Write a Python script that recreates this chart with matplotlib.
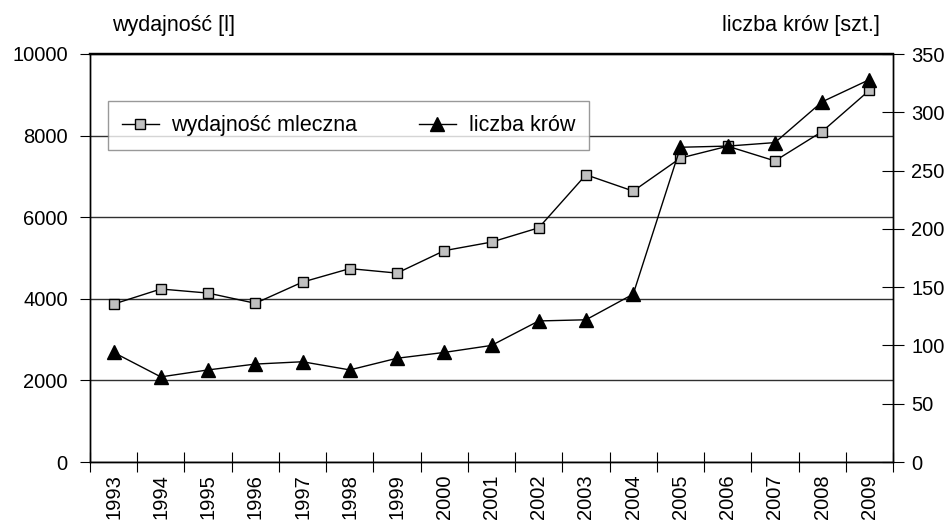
import matplotlib
matplotlib.use("Agg")
import matplotlib.pyplot as plt
from matplotlib.ticker import FixedLocator, NullFormatter

plt.rcParams['font.family'] = ['Liberation Sans', 'DejaVu Sans']

years = ['1993', '1994', '1995', '1996', '1997', '1998', '1999', '2000', '2001',
         '2002', '2003', '2004', '2005', '2006', '2007', '2008', '2009']
milk_yield = [3870, 4240, 4140, 3890, 4410, 4740, 4630, 5180, 5390,
              5740, 7040, 6640, 7450, 7740, 7380, 8100, 9110]
cow_count = [94, 73, 79, 84, 86, 79, 89, 94, 100,
             121, 122, 144, 270, 271, 274, 309, 328]

left_ticks = [0, 2000, 4000, 6000, 8000, 10000]
right_ticks = [0, 50, 100, 150, 200, 250, 300, 350]

fig = plt.figure(figsize=(9.5, 5.26), dpi=100)
ax = fig.add_axes([90/950, 1-462/526, (893-90)/950, (462-54)/526])
ax2 = ax.twinx()

x = list(range(len(years)))
TFS = 14.5
LFS = 15.5

l1, = ax.plot(x, milk_yield, color='black', lw=1.0, marker='s', markersize=7.5,
              markerfacecolor='#c0c0c0', markeredgecolor='black', markeredgewidth=1.0,
              label='wydajność mleczna', zorder=3)
l2, = ax2.plot(x, cow_count, color='black', lw=1.0, marker='^', markersize=10,
               markerfacecolor='black', markeredgecolor='black',
               label='liczba krów', zorder=3)

ax.set_xlim(-0.5, len(years) - 0.5)
ax.set_ylim(0, 10000)
ax2.set_ylim(0, 350)

ax.set_yticks(left_ticks)
ax.set_yticklabels([str(t) for t in left_ticks], fontsize=TFS)
ax2.set_yticks(right_ticks)
ax2.set_yticklabels([str(t) for t in right_ticks], fontsize=TFS)

ax.set_xticks(x)
ax.set_xticklabels(years, rotation=90, fontsize=14.5)
ax.tick_params(axis='x', which='major', length=0, pad=9)
ax.xaxis.set_minor_locator(FixedLocator([i - 0.5 for i in range(len(years) + 1)]))
ax.xaxis.set_minor_formatter(NullFormatter())
ax.tick_params(axis='x', which='minor', direction='inout', length=14, width=0.8)
ax.tick_params(axis='y', direction='out', length=7, width=0.8, pad=9)
ax2.tick_params(axis='y', direction='inout', length=16, width=0.8, pad=5)

ax.yaxis.grid(True, color='#303030', lw=1.0)
ax.set_axisbelow(True)

for sp in ['left', 'right', 'bottom']:
    ax.spines[sp].set_linewidth(1.0)
    ax2.spines[sp].set_linewidth(1.0)
ax.spines['top'].set_linewidth(1.6)
ax2.spines['top'].set_linewidth(1.6)

leg = ax2.legend(handles=[l1, l2], loc='center', ncol=2,
                 bbox_to_anchor=(18/803, 0.762, 481/803, 0.125), mode='expand',
                 fontsize=LFS, frameon=True, fancybox=False, edgecolor='#808080',
                 handlelength=1.7, handletextpad=0.6, borderaxespad=0,
                 borderpad=0.65, columnspacing=2.5)
leg.get_frame().set_linewidth(1.0)

fig.text(112/950, 1-25/526, 'wydajność [l]', fontsize=LFS, ha='left', va='center')
fig.text(880/950, 1-25/526, 'liczba krów [szt.]', fontsize=LFS, ha='right', va='center')

fig.savefig('out.png', dpi=100)
